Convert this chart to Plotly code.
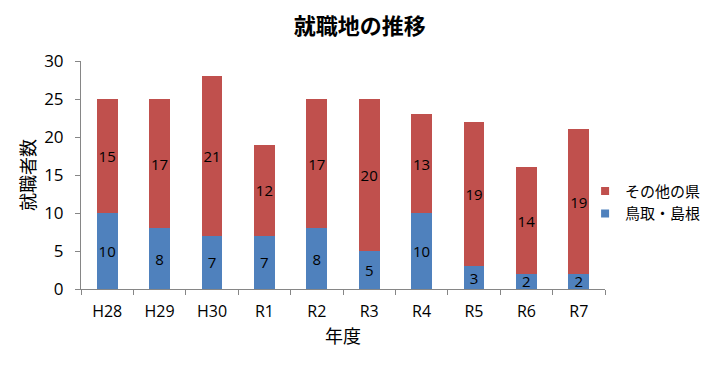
import plotly.graph_objects as go

categories = ["H28", "H29", "H30", "R1", "R2", "R3", "R4", "R5", "R6", "R7"]
tottori_shimane = [10, 8, 7, 7, 8, 5, 10, 3, 2, 2]
other_prefs = [15, 17, 21, 12, 17, 20, 13, 19, 14, 19]

jp = "Noto Sans CJK JP"
lat = "Open Sans, Noto Sans CJK JP"
BLUE = "#4F81BD"
RED = "#C0504D"

fig = go.Figure()
fig.add_trace(go.Bar(
    x=categories, y=tottori_shimane, name="鳥取・島根", showlegend=False,
    marker=dict(color=BLUE, line=dict(width=0)),
    text=tottori_shimane, textposition="inside", insidetextanchor="middle",
    textfont=dict(color="black", size=15, family=lat), textangle=0,
))
fig.add_trace(go.Bar(
    x=categories, y=other_prefs, name="その他の県", showlegend=False,
    marker=dict(color=RED, line=dict(width=0)),
    text=other_prefs, textposition="inside", insidetextanchor="middle",
    textfont=dict(color="black", size=15, family=lat), textangle=0,
))
# legend entries with small square markers
fig.add_trace(go.Scatter(x=[None], y=[None], mode="markers", name="鳥取・島根",
                         marker=dict(symbol="square", size=8, color=BLUE)))
fig.add_trace(go.Scatter(x=[None], y=[None], mode="markers", name="その他の県",
                         marker=dict(symbol="square", size=8, color=RED)))

W, H = 715, 360  # page body has an 8px margin

fig.update_layout(
    barmode="stack", bargap=0.6,
    width=W, height=H,
    margin=dict(l=73, r=118, t=53, b=79, autoexpand=False),
    paper_bgcolor="white", plot_bgcolor="white",
    title=dict(text="<b>就職地の推移</b>", x=0.492, xanchor="center", xref="container",
               y=1 - 18 / H, yref="container", yanchor="middle",
               font=dict(family=jp, size=22, color="black")),
    legend=dict(x=0.962, xanchor="left", y=0.38, yanchor="middle", traceorder="reversed",
                font=dict(family=jp, size=15, color="black"), itemwidth=30,
                bgcolor="rgba(0,0,0,0)"),
    uniformtext=dict(minsize=15, mode="show"),
    xaxis=dict(
        automargin=False,
        showline=True, linecolor="#868686", linewidth=1,
        ticks="outside", ticklen=5, tickcolor="#868686", tickson="boundaries",
        ticklabelstandoff=8,
        tickfont=dict(family=lat, size=16, color="black"),
        title=dict(text="年度", font=dict(family=jp, size=18, color="black"), standoff=6),
    ),
    yaxis=dict(
        automargin=False,
        range=[0, 30], dtick=5, showgrid=False, zeroline=False,
        showline=True, linecolor="#868686", linewidth=1,
        ticks="outside", ticklen=5, tickcolor="#868686",
        ticklabelstandoff=8,
        tickfont=dict(family=lat, size=17, color="black"),
        title=dict(text="就職者数", font=dict(family=jp, size=18, color="black"), standoff=3),
    ),
)

fig.write_html("out.html")
